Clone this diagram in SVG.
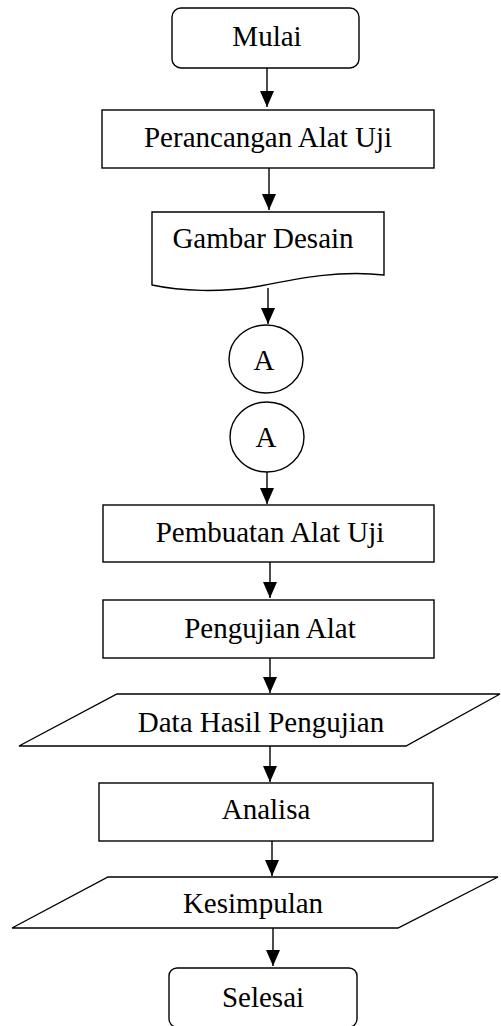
<svg xmlns="http://www.w3.org/2000/svg" width="501" height="1026" viewBox="0 0 501 1026">
  <style>
    .shape { fill: #ffffff; stroke: #000000; stroke-width: 1.4; }
    .label { font-family: "Liberation Serif", "Times New Roman", serif; font-size: 29px; fill: #000000; text-anchor: middle; }
    .flow { stroke: #000000; stroke-width: 1.4; fill: none; marker-end: url(#arrow); }
  </style>
  <defs>
    <marker id="arrow" viewBox="0 0 16 14" refX="16" refY="7" markerWidth="16" markerHeight="14" markerUnits="userSpaceOnUse" orient="auto">
      <path d="M0,0 L16,7 L0,14 Z" fill="#000000"/>
    </marker>
  </defs>

  <rect width="501" height="1026" fill="#ffffff"/>

  <!-- connectors -->
  <g id="connectors">
    <line class="flow" x1="267" y1="68" x2="267" y2="107"/>
    <line class="flow" x1="269" y1="168" x2="269" y2="210"/>
    <line class="flow" x1="268" y1="288" x2="268" y2="324"/>
    <line class="flow" x1="267" y1="472" x2="267" y2="504"/>
    <line class="flow" x1="270" y1="562" x2="270" y2="598"/>
    <line class="flow" x1="270" y1="658" x2="270" y2="693"/>
    <line class="flow" x1="270" y1="746" x2="270" y2="782"/>
    <line class="flow" x1="272" y1="841" x2="272" y2="876"/>
    <line class="flow" x1="273" y1="928" x2="273" y2="966"/>
  </g>

  <!-- start terminator -->
  <g id="mulai">
    <rect class="shape" x="172" y="8" width="187" height="60" rx="9"/>
    <text class="label" x="267" y="46">Mulai</text>
  </g>

  <!-- process: design -->
  <g id="perancangan">
    <rect class="shape" x="102" y="110" width="332" height="58"/>
    <text class="label" x="268" y="147">Perancangan Alat Uji</text>
  </g>

  <!-- document -->
  <g id="gambar-desain">
    <path class="shape" d="M152,212 H384 V275 C340,270 300,278 260,286 C220,293 180,291 152,285 Z"/>
    <text class="label" x="263" y="248">Gambar Desain</text>
  </g>

  <!-- off-page connectors -->
  <g id="konektor-a1">
    <ellipse class="shape" cx="266" cy="359" rx="37" ry="34"/>
    <text class="label" x="264" y="370">A</text>
  </g>
  <g id="konektor-a2">
    <ellipse class="shape" cx="267" cy="437" rx="37" ry="35"/>
    <text class="label" x="266" y="447">A</text>
  </g>

  <!-- process: build -->
  <g id="pembuatan">
    <rect class="shape" x="103" y="505" width="331" height="57"/>
    <text class="label" x="270" y="542">Pembuatan Alat Uji</text>
  </g>

  <!-- process: test -->
  <g id="pengujian">
    <rect class="shape" x="103" y="600" width="331" height="58"/>
    <text class="label" x="270" y="638">Pengujian Alat</text>
  </g>

  <!-- data: test results -->
  <g id="data-hasil">
    <polygon class="shape" points="117,694 500,694 406,746 19,746"/>
    <text class="label" x="261" y="732">Data Hasil Pengujian</text>
  </g>

  <!-- process: analysis -->
  <g id="analisa">
    <rect class="shape" x="99" y="783" width="334" height="58"/>
    <text class="label" x="266" y="819">Analisa</text>
  </g>

  <!-- data: conclusion -->
  <g id="kesimpulan">
    <polygon class="shape" points="108,877 498,877 398,928 12,928"/>
    <text class="label" x="253" y="913">Kesimpulan</text>
  </g>

  <!-- end terminator -->
  <g id="selesai">
    <rect class="shape" x="169" y="968" width="188" height="59" rx="8"/>
    <text class="label" x="263" y="1007">Selesai</text>
  </g>
</svg>
